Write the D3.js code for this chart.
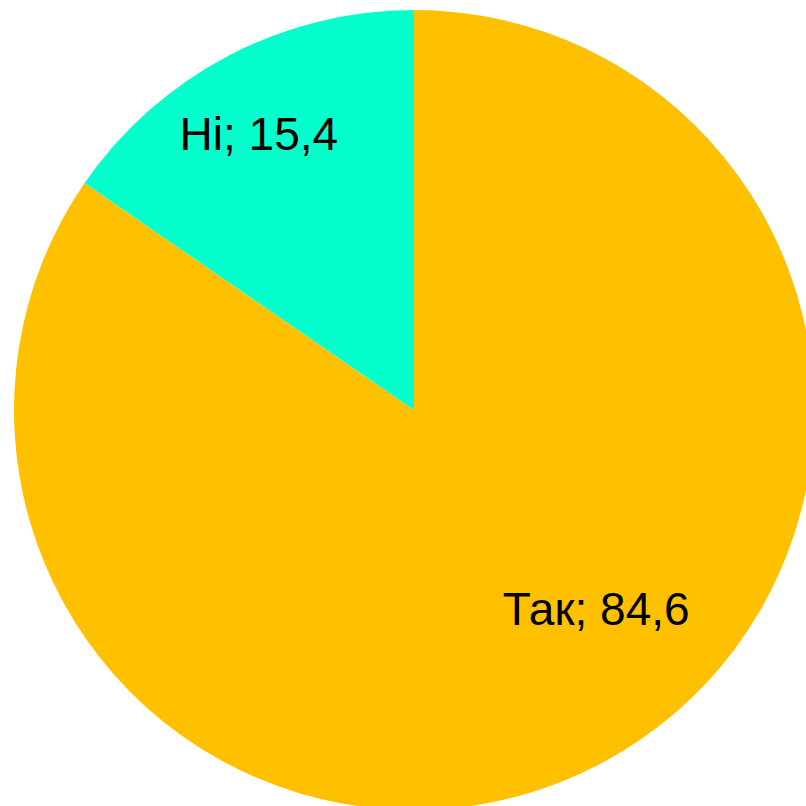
<!DOCTYPE html>
<html>
<head>
<meta charset="utf-8">
<script src="https://cdn.jsdelivr.net/npm/d3@7"></script>
<style>
  html, body { margin: 0; padding: 0; background: #fff; }
  svg { display: block; }
</style>
</head>
<body>
<svg id="chart" width="806" height="806"></svg>
<script>
// data
const categories = ["Так", "Ні"];
const values = [84.6, 15.4];
const colors = ["#FFC000", "#05FFCC"];

const W = 806, H = 806;
const cx = 414, cy = 410, R = 400;

const svg = d3.select("#chart");
const g = svg.append("g").attr("transform", `translate(${cx},${cy})`);

const pie = d3.pie().sort(null).value(d => d.value);
const arc = d3.arc().innerRadius(0).outerRadius(R);

const rows = categories.map((c, i) => ({ name: c, value: values[i], color: colors[i] }));
const arcs = pie(rows);

g.selectAll("path")
  .data(arcs)
  .enter().append("path")
    .attr("d", arc)
    .attr("fill", d => d.data.color);

// label placement: radius fraction + nudges (Excel-style manual labels)
const labelPos = [
  { r: 0.56, dx: 78, dy: 1 },
  { r: 0.78, dx: -10, dy: 0 }
];

g.selectAll("text")
  .data(arcs)
  .enter().append("text")
    .attr("transform", (d, i) => {
      const p = labelPos[i];
      const a = (d.startAngle + d.endAngle) / 2;
      const x = Math.sin(a) * R * p.r + p.dx;
      const y = -Math.cos(a) * R * p.r + p.dy;
      return `translate(${x},${y})`;
    })
    .attr("text-anchor", "middle")
    .attr("dy", "0.35em")
    .attr("font-family", "Liberation Sans, Arial, sans-serif")
    .attr("font-size", 46)
    .attr("fill", "#000")
    .text(d => `${d.data.name}; ${d3.format(".1f")(d.data.value).replace(".", ",")}`);
</script>
</body>
</html>
